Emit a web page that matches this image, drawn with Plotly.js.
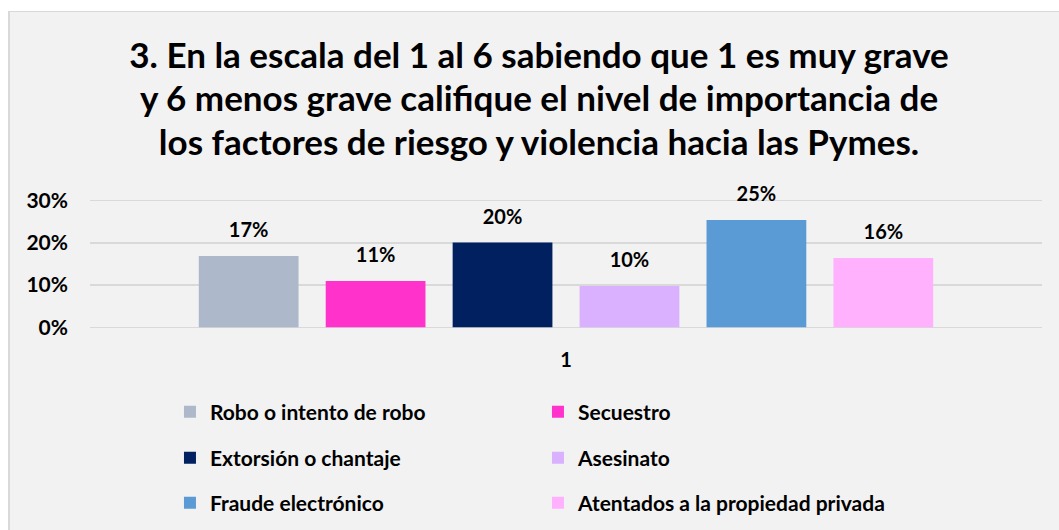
<!DOCTYPE html>
<html>
<head>
<meta charset="utf-8">
<script src="https://cdn.plot.ly/plotly-3.0.1.min.js"></script>
<style>
  html, body { margin:0; padding:0; background:#ffffff; }
  #bg { position:absolute; left:8px; top:11px; width:1060px; height:530px; background:#F2F2F2;
        border-left:2px solid #D9D9D9; border-top:1px solid #D9D9D9; box-sizing:border-box; }
  #chart { position:absolute; left:0; top:0; width:1059px; height:530px; }
</style>
</head>
<body>
<div id="bg"></div>
<div id="chart"></div>
<script>
// Data
var categories = ['1'];
var seriesNames = [
  'Robo o intento de robo',
  'Secuestro',
  'Extorsión o chantaje',
  'Asesinato',
  'Fraude electrónico',
  'Atentados a la propiedad privada'
];
var seriesValues = [0.169, 0.110, 0.201, 0.098, 0.254, 0.164];
var seriesColors = ['#ADB9CA', '#FF33CC', '#002060', '#D9B1FE', '#5B9BD5', '#FFB1FE'];
var yTickVals = [0, 0.1, 0.2, 0.3];
var yTickText = ['0%', '10%', '20%', '30%'];
var titleLines = [
  '3. En la escala del 1 al 6 sabiendo que 1 es muy grave',
  'y 6 menos grave califique el nivel de importancia de',
  'los factores de riesgo y violencia hacia las Pymes.'
];

var FONT = 'Lato, "Open Sans", "DejaVu Sans", sans-serif';
var legendIds = ['legend', 'legend', 'legend2', 'legend2', 'legend3', 'legend3'];

var traces = seriesNames.map(function (name, i) {
  return {
    type: 'bar',
    name: name,
    x: categories,
    y: [seriesValues[i]],
    marker: { color: seriesColors[i] },
    texttemplate: '<span style="font-size:20px">%{y:.0%}</span><br><span style="font-size:20px">&nbsp;</span>',
    textposition: 'outside',
    textfont: { family: FONT, size: 9, color: '#000000', weight: 'bold' },
    cliponaxis: false,
    hoverinfo: 'skip',
    legend: legendIds[i]
  };
});

var titleText = titleLines.map(function (t) {
  return '<span style="font-size:35px">' + t + '</span>';
}).join('<br>');

function legendAt(yy) {
  return {
    orientation: 'h',
    xref: 'container', yref: 'container',
    x: 0.1605, xanchor: 'left',
    y: yy, yanchor: 'middle',
    entrywidth: 323, entrywidthmode: 'pixels',
    bgcolor: 'rgba(0,0,0,0)',
    font: { family: FONT, size: 21, color: '#000000', weight: 'bold' },
    itemclick: false, itemdoubleclick: false
  };
}

var layout = {
  width: 1059,
  height: 530,
  margin: { l: 90, r: 17, t: 199.3, b: 200.8 },
  paper_bgcolor: 'rgba(0,0,0,0)',
  plot_bgcolor: 'rgba(0,0,0,0)',
  barmode: 'group',
  bargap: 0.2,
  bargroupgap: 0.214,
  showlegend: true,
  title: {
    text: titleText,
    font: { family: FONT, size: 33.5, color: '#000000', weight: 'bold' },
    x: 0.509, xanchor: 'center',
    y: 0.872, yanchor: 'top', yref: 'container'
  },
  xaxis: {
    type: 'category',
    range: [-0.5, 0.5],
    showgrid: false,
    showline: false,
    zeroline: false,
    ticks: '',
    ticklabelstandoff: 17,
    tickfont: { family: FONT, size: 20, color: '#000000', weight: 'bold' },
    fixedrange: true
  },
  yaxis: {
    range: [-0.004, 0.304],
    tickvals: yTickVals,
    ticktext: yTickText,
    showgrid: true,
    gridcolor: '#D9D9D9',
    gridwidth: 1.5,
    zeroline: false,
    showline: false,
    ticks: '',
    ticklabelstandoff: 21,
    tickfont: { family: FONT, size: 21, color: '#000000', weight: 'bold' },
    fixedrange: true
  },
  legend: legendAt(0.2226),
  legend2: legendAt(0.1358),
  legend3: legendAt(0.0509)
};

Plotly.newPlot('chart', traces, layout, { displayModeBar: false, staticPlot: true });
</script>
</body>
</html>
